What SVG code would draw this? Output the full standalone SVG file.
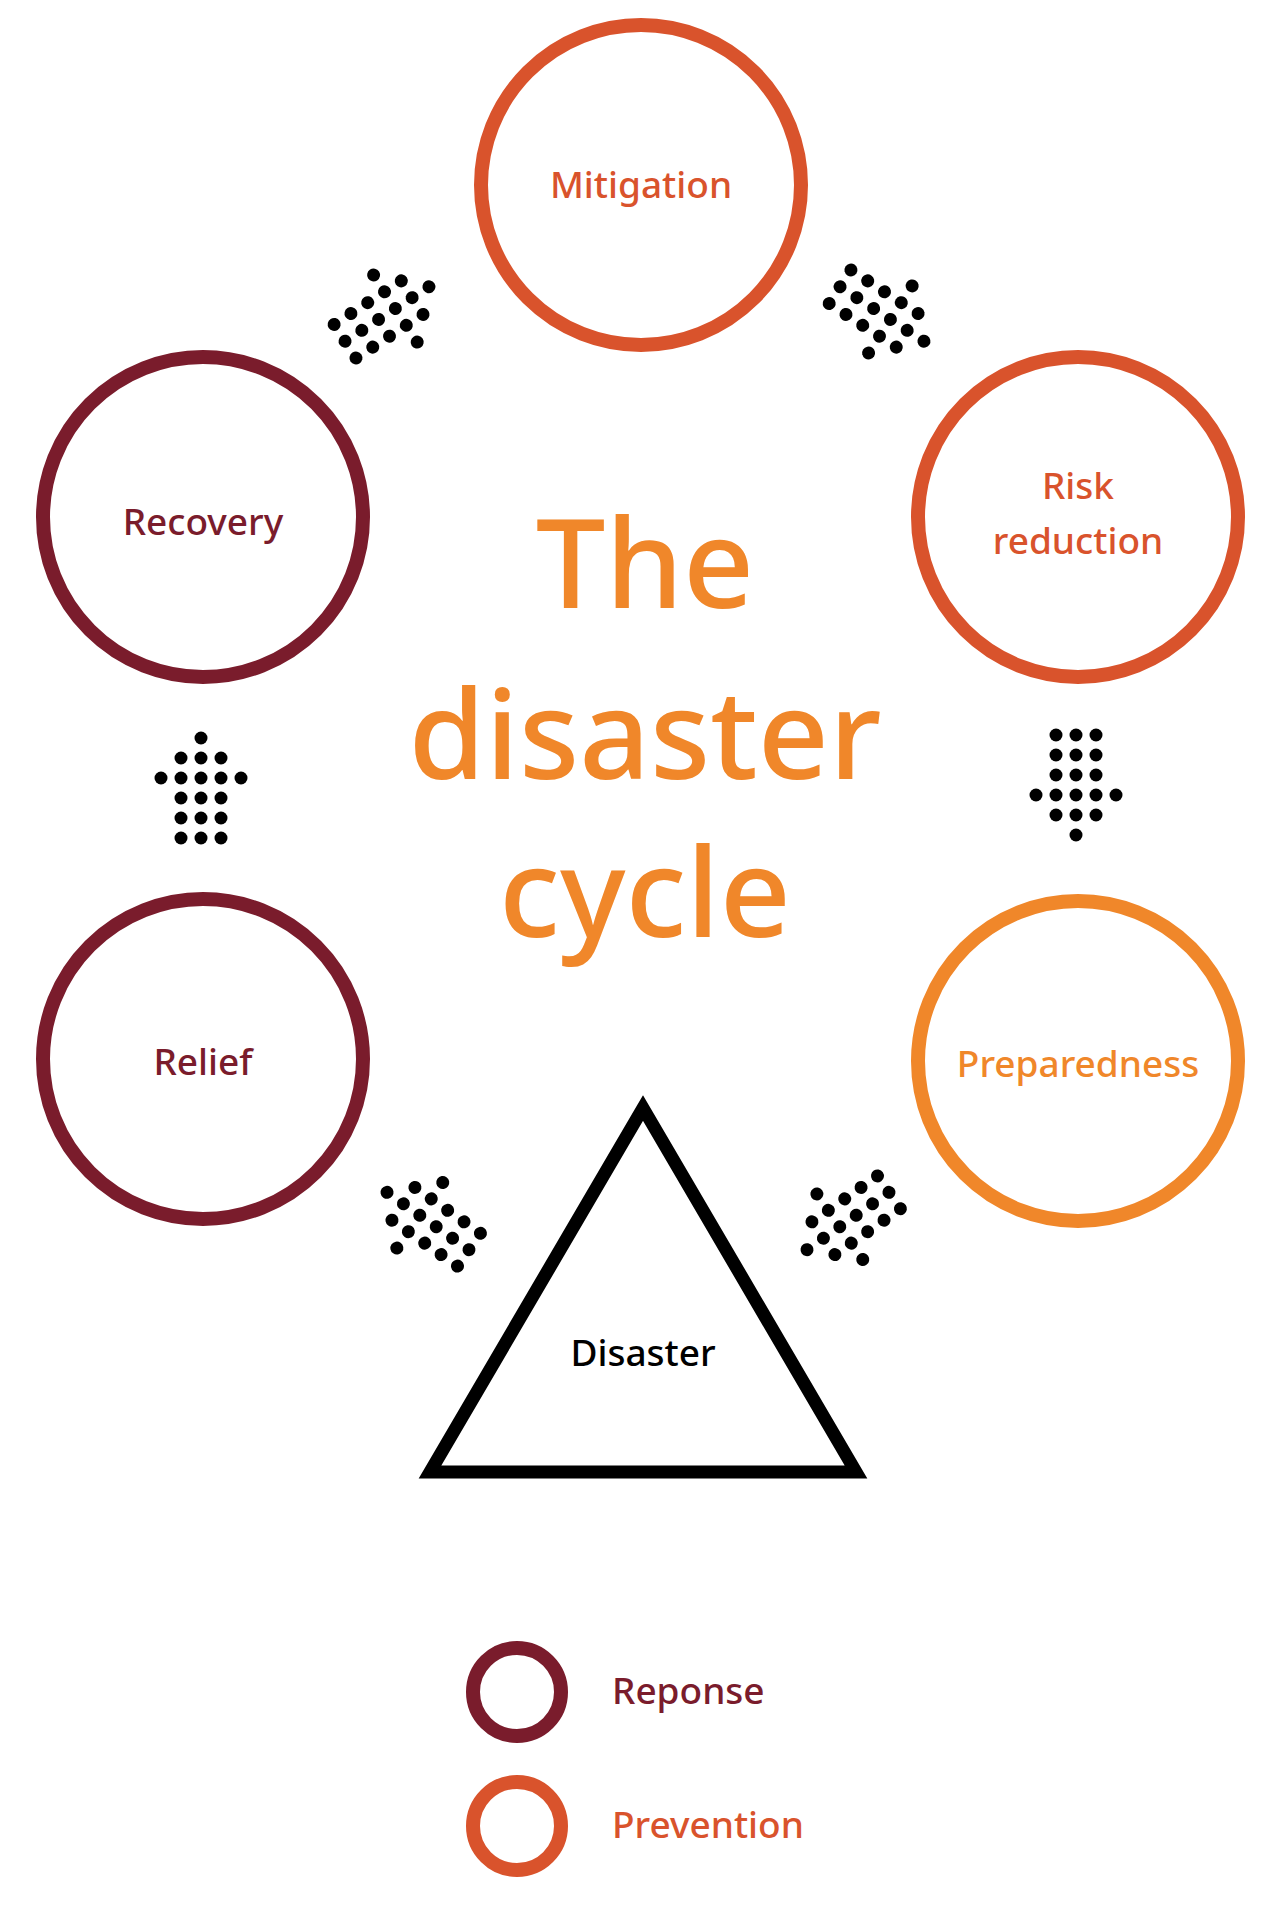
<svg xmlns="http://www.w3.org/2000/svg" width="1280" height="1911" viewBox="0 0 1280 1911">
<style>
.n{fill:none;stroke-width:14}
.t{font-family:"Noto Sans","Liberation Sans",sans-serif;font-size:37px;font-weight:500;text-anchor:middle}
.r{stroke:#7a1c2c}.p{stroke:#d9532c}.o{stroke:#f0872a}
.h{font-family:"Noto Sans","Liberation Sans",sans-serif;font-size:124px;font-weight:500;fill:#f0872a;text-anchor:middle}
</style>
<defs>
<g id="arr" fill="#000">
<circle cx="0" cy="-50" r="6.5"/>
<circle cx="-20" cy="-30" r="6.5"/><circle cx="0" cy="-30" r="6.5"/><circle cx="20" cy="-30" r="6.5"/>
<circle cx="-40" cy="-10" r="6.5"/><circle cx="-20" cy="-10" r="6.5"/><circle cx="0" cy="-10" r="6.5"/><circle cx="20" cy="-10" r="6.5"/><circle cx="40" cy="-10" r="6.5"/>
<circle cx="-20" cy="10" r="6.5"/><circle cx="0" cy="10" r="6.5"/><circle cx="20" cy="10" r="6.5"/>
<circle cx="-20" cy="30" r="6.5"/><circle cx="0" cy="30" r="6.5"/><circle cx="20" cy="30" r="6.5"/>
<circle cx="-20" cy="50" r="6.5"/><circle cx="0" cy="50" r="6.5"/><circle cx="20" cy="50" r="6.5"/>
</g>
</defs>
<rect width="1280" height="1911" fill="#fff"/>
<text class="h" x="645" y="608">The</text>
<text class="h" x="645" y="779">disaster</text>
<text class="h" x="645" y="937">cycle</text>
<g id="mitigation"><circle class="n p" cx="641" cy="185" r="160"/><text class="t" x="641" y="198" fill="#d9532c">Mitigation</text></g>
<g id="risk"><circle class="n p" cx="1078" cy="517" r="160"/><text class="t" x="1078" y="499" fill="#d9532c">Risk</text><text class="t" x="1078" y="554" fill="#d9532c">reduction</text></g>
<g id="preparedness"><circle class="n o" cx="1078" cy="1061" r="160"/><text class="t" x="1078" y="1077" fill="#f0872a">Preparedness</text></g>
<g id="disaster"><polygon points="643,1108 430,1472 856,1472" fill="none" stroke="#000" stroke-width="13"/><text class="t" x="643" y="1366" fill="#000">Disaster</text></g>
<g id="relief"><circle class="n r" cx="203" cy="1059" r="160"/><text class="t" x="203" y="1075" fill="#7a1c2c">Relief</text></g>
<g id="recovery"><circle class="n r" cx="203" cy="517" r="160"/><text class="t" x="203" y="535" fill="#7a1c2c">Recovery</text></g>
<g id="connectors">
<use href="#arr" transform="translate(387,314) rotate(57)"/>
<use href="#arr" transform="translate(882,314) rotate(123)"/>
<use href="#arr" transform="translate(1076,785) rotate(180)"/>
<use href="#arr" transform="translate(848,1221) rotate(235)"/>
<use href="#arr" transform="translate(428,1221) rotate(305)"/>
<use href="#arr" transform="translate(201,788)"/>
</g>
<g id="legend">
<circle class="n r" cx="517" cy="1692" r="44"/><text class="t" x="612" y="1704" fill="#7a1c2c" style="text-anchor:start">Reponse</text>
<circle class="n p" cx="517" cy="1826" r="44"/><text class="t" x="612" y="1838" fill="#d9532c" style="text-anchor:start">Prevention</text>
</g>
</svg>
